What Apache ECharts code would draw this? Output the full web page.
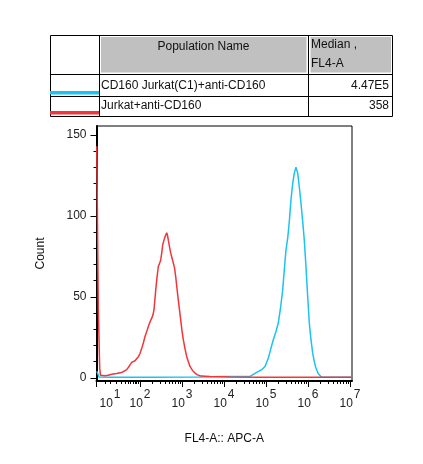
<!DOCTYPE html>
<html>
<head>
<meta charset="utf-8">
<script src="https://cdn.jsdelivr.net/npm/echarts@6/dist/echarts.min.js"></script>
<style>
html, body { margin: 0; padding: 0; background: #fff; }
#main { width: 423px; height: 464px; }
</style>
</head>
<body>
<div id="main"></div>
<script>
// table rows
var popNames = ['CD160 Jurkat(C1)+anti-CD160', 'Jurkat+anti-CD160'];
var popMedians = ['4.47E5', '358'];
var popColors = ['#19C3F2', '#F2353A'];

// x is in display decades (2 = 10^2, 3 = 10^3 ...), y is count
var bluePos = [0.971, 0.995, 1.024, 1.286, 2.238, 3.429, 3.667, 4.024, 4.381, 4.619, 4.660, 4.779, 4.898, 4.976, 5.055,
    5.112, 5.174, 5.238, 5.293, 5.350, 5.398, 5.436, 5.476, 5.517, 5.555, 5.595, 5.636, 5.674, 5.714, 5.755,
    5.793, 5.833, 5.874, 5.912, 5.952, 5.993, 6.031, 6.071, 6.112, 6.150, 6.190, 6.245, 6.326, 6.524, 7.024];
var blueCount = [4, 2.5, 0.5, 0.3, 0.3, 0.4, 0.6, 0.8, 0.8, 0.8, 1.9, 3.3, 5, 7, 12,
    17.7, 23.5, 28.6, 33.8, 44, 54.3, 66.7, 79, 86.2, 96.5, 110, 120, 126.4, 130, 126.4,
    118, 107.8, 96.5, 85, 68.7, 50, 33.8, 23.5, 15.2, 10, 6, 2.5, 0.3, 0.3, 0.3];

var redPos = [0.971, 0.990, 1.007, 1.024, 1.040, 1.060, 1.095, 1.167, 1.238, 1.286, 1.357, 1.445, 1.500, 1.564, 1.619,
    1.683, 1.726, 1.762, 1.802, 1.840, 1.881, 1.921, 1.960, 2.000, 2.040, 2.079, 2.119, 2.160, 2.198, 2.238,
    2.279, 2.310, 2.333, 2.357, 2.381, 2.405, 2.436, 2.464, 2.493, 2.517, 2.540, 2.571, 2.595, 2.619, 2.636,
    2.655, 2.674, 2.702, 2.731, 2.762, 2.793, 2.821, 2.850, 2.881, 2.912, 2.940, 2.969, 3.000, 3.031, 3.071,
    3.112, 3.150, 3.190, 3.250, 3.310, 3.369, 3.429, 3.548, 3.667, 4.143, 4.857, 5.571, 6.286, 7.024];
var redCount = [143, 89, 42, 24, 6, 1.5, 1, 1.2, 1.5, 1.9, 2.3, 2.6, 3, 3.3, 4,
    5, 6.5, 8, 9.5, 10, 10.5, 11.5, 13, 15, 18, 21.5, 25.5, 28.5, 31.7, 34.5,
    36.8, 39, 42, 49, 56, 62, 68.7, 70.5, 72.8, 77, 82, 85, 87, 88, 89.5,
    88, 85, 81, 77, 74, 72.8, 68, 62.5, 55, 48, 42, 35.8, 29, 23.5, 18,
    13, 10, 7, 4.5, 2.9, 1.8, 1.2, 1, 0.8, 0.4, 0.3, 0.3, 0.3, 0.3];

// axis ticks and labels
var xMin = 0.964, xMax = 7.048;
var xMajorTicks = [0.964, 2, 3, 4, 5, 6, 7];
var xLabelPos = [1.286, 2, 3, 4, 5, 6, 7];
var xLabelExp = ['1', '2', '3', '4', '5', '6', '7'];
var xLowTicks = [1.167, 1.286, 1.445, 1.564, 1.643, 1.714, 1.774, 1.833, 1.881, 1.921, 1.960];
var yMajorTicks = [0, 50, 100, 150];
var yMinorTicks = [10, 20, 30, 40, 60, 70, 80, 90, 110, 120, 130, 140];

var xMinorTicks = xLowTicks.slice();
[2, 3, 4, 5, 6].forEach(function (d) {
    [2, 3, 4, 5, 6, 7, 8, 9].forEach(function (k) {
        xMinorTicks.push(d + Math.log10(k));
    });
});

var font = 'Liberation Sans, Arial, sans-serif';
var myChart = echarts.init(document.getElementById('main'));

function toPairs(pos, cnt) {
    return pos.map(function (u, i) { return [u, cnt[i]]; });
}

// table above the plot
var tb = { l: 50.5, r: 392.5, c1: 99.5, c2: 308.5, t: 35.5, h1: 74.5, h2: 96.5, b: 116.5 };
var graphics = [
    { type: 'rect', shape: { x: 101, y: 37, width: 205.5, height: 35.5 }, style: { fill: '#C0C0C0' } },
    { type: 'rect', shape: { x: 310.5, y: 37, width: 80.5, height: 35.5 }, style: { fill: '#C0C0C0' } },
    { type: 'rect', shape: { x: tb.l, y: tb.t, width: tb.r - tb.l, height: tb.b - tb.t }, style: { fill: 'none', stroke: '#000', lineWidth: 1 } },
    { type: 'line', shape: { x1: tb.c1, y1: tb.t, x2: tb.c1, y2: tb.b }, style: { stroke: '#000', lineWidth: 1 } },
    { type: 'line', shape: { x1: tb.c2, y1: tb.t, x2: tb.c2, y2: tb.b }, style: { stroke: '#000', lineWidth: 1 } },
    { type: 'line', shape: { x1: tb.l, y1: tb.h1, x2: tb.r, y2: tb.h1 }, style: { stroke: '#000', lineWidth: 1 } },
    { type: 'line', shape: { x1: tb.l, y1: tb.h2, x2: tb.r, y2: tb.h2 }, style: { stroke: '#000', lineWidth: 1 } },
    { type: 'text', x: 203.5, y: 47, style: { text: 'Population Name', font: '12px ' + font, fill: '#111', textAlign: 'center', textVerticalAlign: 'middle' } },
    { type: 'text', x: 311, y: 45, style: { text: 'Median ,', font: '12px ' + font, fill: '#111', textVerticalAlign: 'middle' } },
    { type: 'text', x: 311, y: 64, style: { text: 'FL4-A', font: '12px ' + font, fill: '#111', textVerticalAlign: 'middle' } }
];
var rowY = [86, 106];
popNames.forEach(function (name, i) {
    graphics.push({ type: 'rect', shape: { x: 50, y: rowY[i] + 5, width: 49, height: 3.5 }, style: { fill: popColors[i] } });
    graphics.push({ type: 'text', x: 101, y: rowY[i], style: { text: name, font: '12px ' + font, fill: '#111', textVerticalAlign: 'middle' } });
    graphics.push({ type: 'text', x: 389, y: rowY[i], style: { text: popMedians[i], font: '12px ' + font, fill: '#111', textAlign: 'right', textVerticalAlign: 'middle' } });
});

option = {
    animation: false,
    backgroundColor: '#fff',
    grid: {
        left: 96.5, top: 126, right: 71, bottom: 83,
        containLabel: false,
        show: true, borderColor: '#000', borderWidth: 1, backgroundColor: 'transparent'
    },
    xAxis: [
        {
            type: 'value', min: xMin, max: xMax, position: 'bottom',
            name: 'FL4-A:: APC-A', nameLocation: 'middle', nameGap: 52,
            nameTextStyle: { fontFamily: font, fontSize: 12, color: '#111' },
            axisLine: { show: true, onZero: false, lineStyle: { color: '#000', width: 2 } },
            axisTick: { show: true, customValues: xMajorTicks, length: 6, lineStyle: { color: '#000', width: 1 } },
            splitLine: { show: false },
            axisLabel: {
                customValues: xLabelPos, margin: 8,
                formatter: function (v) {
                    var i = 0;
                    for (var k = 0; k < xLabelPos.length; k++) {
                        if (Math.abs(xLabelPos[k] - v) < 1e-6) i = k;
                    }
                    return '{b|10}{s|' + xLabelExp[i] + '}';
                },
                rich: {
                    b: { fontFamily: font, fontSize: 12, color: '#222', verticalAlign: 'bottom' },
                    s: { fontFamily: font, fontSize: 12, color: '#222', verticalAlign: 'top', padding: [0, 0, 9, 1] }
                }
            }
        },
        {
            type: 'value', min: xMin, max: xMax, position: 'bottom',
            axisLine: { show: false, onZero: false },
            axisTick: { show: true, customValues: xMinorTicks, length: 3, lineStyle: { color: '#000', width: 1 } },
            axisLabel: { show: false },
            splitLine: { show: false }
        }
    ],
    yAxis: [
        {
            type: 'value', min: -2, max: 155.5,
            name: 'Count', nameLocation: 'middle', nameGap: 50, nameRotate: 90,
            nameTextStyle: { fontFamily: font, fontSize: 12, color: '#111' },
            axisLine: { show: true, onZero: false, lineStyle: { color: '#000', width: 2 } },
            axisTick: { show: true, customValues: yMajorTicks, length: 6, lineStyle: { color: '#000', width: 1 } },
            axisLabel: { customValues: yMajorTicks, margin: 10, fontFamily: font, fontSize: 12, color: '#222' },
            splitLine: { show: false }
        },
        {
            type: 'value', min: -2, max: 155.5, position: 'left',
            axisLine: { show: false, onZero: false },
            axisTick: { show: true, customValues: yMinorTicks, length: 3, lineStyle: { color: '#000', width: 1 } },
            axisLabel: { show: false },
            splitLine: { show: false }
        }
    ],
    series: [
        {
            name: popNames[0], type: 'line', xAxisIndex: 0, yAxisIndex: 0,
            data: toPairs(bluePos, blueCount),
            symbol: 'none', z: 3,
            lineStyle: { color: popColors[0], width: 1.5 },
            itemStyle: { color: popColors[0] }
        },
        {
            name: popNames[1], type: 'line', xAxisIndex: 0, yAxisIndex: 0,
            data: toPairs(redPos, redCount),
            symbol: 'none', z: 4,
            lineStyle: { color: popColors[1], width: 1.5 },
            itemStyle: { color: popColors[1] }
        }
    ],
    graphic: graphics
};

myChart.setOption(option);
</script>
</body>
</html>
